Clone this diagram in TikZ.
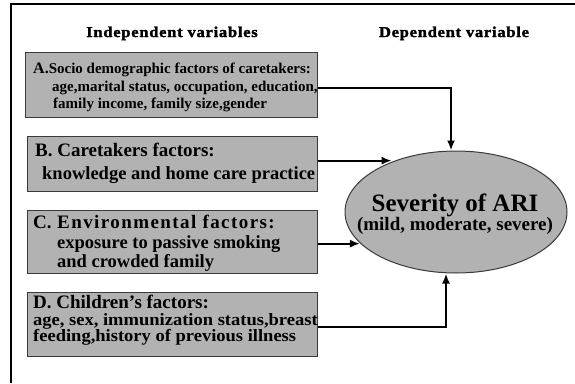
\documentclass[tikz,border=0pt]{standalone}
\usepackage{fontspec}
\setmainfont{Liberation Serif}
\newfontfamily\headfont[FakeStretch=1.10,LetterSpace=5,BoldFeatures={FakeBold=2}]{Liberation Serif}
\newfontfamily\spacedfont[LetterSpace=7.5]{Liberation Serif}
\newfontfamily\narrowfont[FakeStretch=1.07]{Liberation Serif}
\usetikzlibrary{arrows.meta,shapes.geometric}
\definecolor{boxfill}{HTML}{B2B2B2}
\definecolor{boxline}{HTML}{3A3A3A}
\begin{document}
\begin{tikzpicture}[x=1pt,y=-1pt,
  factorbox/.style={draw=boxline,line width=1.3pt,fill=boxfill,inner sep=0pt,anchor=north west},
  ttl/.style={anchor=base west,inner sep=0pt,font=\bfseries\fontsize{19}{19}\selectfont},
  bodytxt/.style={anchor=base west,inner sep=0pt,font=\bfseries\fontsize{18.5}{18.5}\selectfont},
  dtxt/.style={anchor=base west,inner sep=0pt,font=\narrowfont\bfseries\fontsize{17.3}{17.3}\selectfont},
  smalltxt/.style={anchor=base west,inner sep=0pt,font=\bfseries\fontsize{15}{15}\selectfont},
  headtxt/.style={anchor=base,inner sep=0pt,font=\headfont\bfseries\fontsize{15}{15}\selectfont},
  conn/.style={line width=2pt,-{Latex[length=10pt,width=8pt]}},
  frame/.style={line width=2.8pt}
]
\useasboundingbox (0,0) rectangle (575,383);
% frame
\coordinate (ftl) at (11,4);
\coordinate (ftr) at (575,4);
\coordinate (fbl) at (11,383);
\draw[frame] (fbl) -- (ftl) -- (ftr);

% headers
\node[headtxt] (H1) at (172,37) {Independent variables};
\node[headtxt] (H2) at (454,37) {Dependent variable};

% boxes
\node[factorbox,minimum width=292pt,minimum height=65pt] (A) at (25,52) {};
\node[factorbox,minimum width=290pt,minimum height=55pt] (B) at (27,136) {};
\node[factorbox,minimum width=290pt,minimum height=63pt] (C) at (27,210) {};
\node[factorbox,minimum width=290pt,minimum height=64pt] (D) at (27,292) {};

% box texts
\node[smalltxt] (A1) at (33,73) {{\fontsize{16}{16}\selectfont A.}Socio demographic factors of caretakers:};
\node[smalltxt] (A2) at (52,91) {age,marital status, occupation, education,};
\node[smalltxt] (A3) at (53,108) {family income, family size,gender};

\node[ttl] (B1) at (35,156) {B. Caretakers factors:};
\node[bodytxt] (B2) at (42,179) {knowledge and home care practice};

\node[ttl] (C1) at (33,228) {\makebox[24pt][l]{C.}{\spacedfont Environmental factors:}};
\node[bodytxt] (C2) at (57,248) {exposure to passive smoking};
\node[bodytxt] (C3) at (57,267) {and crowded family};

\node[ttl] (D1) at (33,308) {D. Children’s factors:};
\node[dtxt] (D2) at (33,325) {age, sex, immunization status,breast};
\node[dtxt] (D3) at (33,341) {feeding,history of previous illness};

% ellipse
\node[ellipse,draw=boxline,line width=1pt,fill=boxfill,minimum width=222pt,minimum height=122pt,inner sep=0pt] (E) at (456,212) {};
\node[anchor=base,inner sep=0pt,font=\bfseries\fontsize{25}{25}\selectfont] (E1) at (455,211) {Severity of ARI};
\node[anchor=base,inner sep=0pt,font=\bfseries\fontsize{19}{19}\selectfont] (E2) at (455,230) {(mild, moderate, severe)};

% connectors
\coordinate (as) at ([yshift=-2.5pt]A.east);
\coordinate (bs) at ([yshift=3.5pt]B.east);
\coordinate (cs) at ([yshift=-1.5pt]C.east);
\coordinate (ds) at ([yshift=-2pt]D.east);
\coordinate (ae) at ([xshift=-5pt]E.north);
\coordinate (de) at ([xshift=-10pt]E.south);
\draw[conn] (as) -| (ae);
\draw[conn] (bs) -- (bs -| E.142);
\draw[conn] (cs) -- (cs -| E.198);
\draw[conn] (ds) -| (de);
\end{tikzpicture}
\end{document}
